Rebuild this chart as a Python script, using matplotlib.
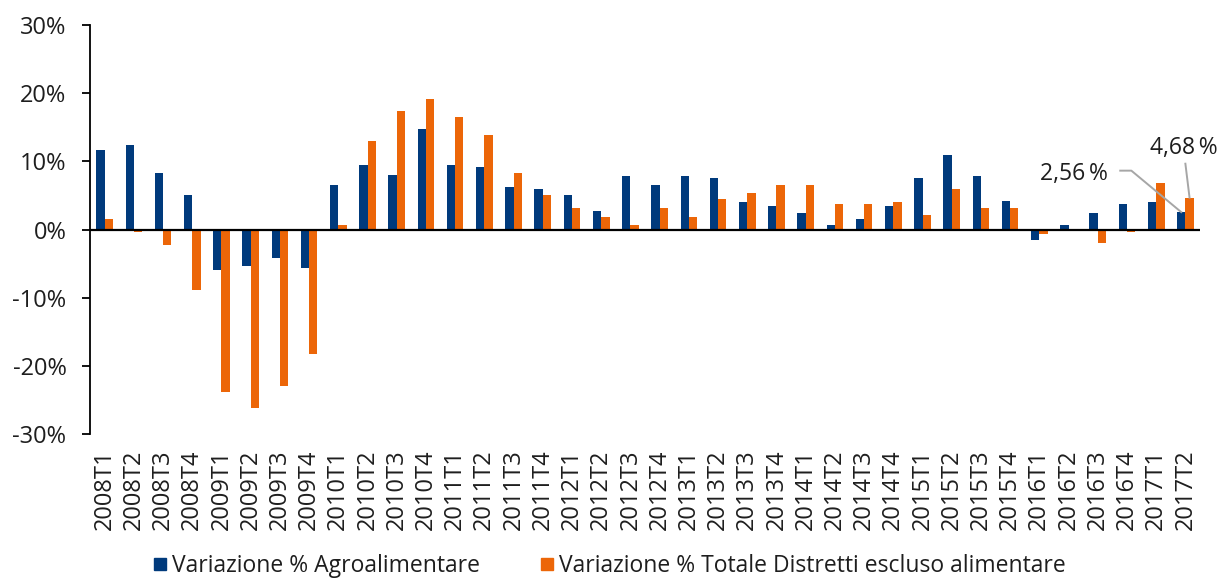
import matplotlib.pyplot as plt
from matplotlib.lines import Line2D
import numpy as np

quarters = ['2008T1', '2008T2', '2008T3', '2008T4', '2009T1', '2009T2', '2009T3', '2009T4',
            '2010T1', '2010T2', '2010T3', '2010T4', '2011T1', '2011T2', '2011T3', '2011T4',
            '2012T1', '2012T2', '2012T3', '2012T4', '2013T1', '2013T2', '2013T3', '2013T4',
            '2014T1', '2014T2', '2014T3', '2014T4', '2015T1', '2015T2', '2015T3', '2015T4',
            '2016T1', '2016T2', '2016T3', '2016T4', '2017T1', '2017T2']

agro = [11.6, 12.4, 8.3, 5.1, -6.0, -5.4, -4.2, -5.7,
        6.5, 9.5, 8.0, 14.8, 9.5, 9.2, 6.2, 6.0,
        5.1, 2.7, 7.8, 6.6, 7.8, 7.5, 4.0, 3.4,
        2.5, 0.7, 1.6, 3.4, 7.5, 11.0, 7.8, 4.2,
        -1.6, 0.7, 2.5, 3.7, 4.0, 2.56]

distretti = [1.6, -0.4, -2.2, -8.9, -23.9, -26.2, -23.0, -18.3,
             0.7, 13.0, 17.4, 19.2, 16.5, 13.9, 8.3, 5.1,
             3.1, 1.9, 0.7, 3.1, 1.9, 4.5, 5.4, 6.6,
             6.6, 3.7, 3.7, 4.0, 2.2, 6.0, 3.1, 3.1,
             -0.7, -0.2, -1.9, -0.4, 6.9, 4.68]

label_agro = 'Variazione % Agroalimentare'
label_distretti = 'Variazione % Totale Distretti escluso alimentare'

BLUE = '#003A7C'
ORANGE = '#EC6608'
TEXT = '#1e1e1e'

plt.rcParams['font.family'] = ['Open Sans', 'DejaVu Sans']

fig = plt.figure(figsize=(12.2, 5.78), dpi=100)
ax = fig.add_axes([0.0738, 0.249, 0.9098, 0.7077])

x = np.arange(len(quarters))
w = 0.285
ax.bar(x - w / 2, agro, w, color=BLUE, label=label_agro)
ax.bar(x + w / 2, distretti, w, color=ORANGE, label=label_distretti)
ax.axhline(0, color='black', lw=1.6, zorder=3)

ax.set_xlim(-0.5, len(quarters) - 0.5)
ax.set_ylim(-30, 30)
ax.set_yticks(range(-30, 31, 10))
ax.set_yticklabels([f'{v}%' for v in range(-30, 31, 10)])
ax.set_xticks(x)
ax.set_xticklabels(quarters, rotation=90)

for side in ['top', 'right', 'bottom']:
    ax.spines[side].set_visible(False)
ax.spines['left'].set_linewidth(1.3)
ax.tick_params(axis='y', direction='out', length=6, width=1.3, pad=11,
               labelsize=17, labelcolor=TEXT)
ax.tick_params(axis='x', length=0, pad=11, labelsize=17, labelcolor=TEXT)

# value labels for the last quarter, with grey leader lines
last = len(quarters) - 1
grey = '#a6a6a6'
ax.text(33.2, 8.2, f'{agro[last]:.2f}'.replace('.', ',') + '\u2009%',
        ha='center', va='center', fontsize=16.5, color=TEXT)
ax.plot([34.77, 35.15, last - w / 2], [8.64, 8.64, agro[last]], color=grey, lw=1.4)
ax.text(36.93, 12.0, f'{distretti[last]:.2f}'.replace('.', ',') + '\u2009%',
        ha='center', va='center', fontsize=16.5, color=TEXT)
ax.plot([37.0, last + w / 2], [9.66, distretti[last]], color=grey, lw=1.4)

handles = [Line2D([], [], marker='s', linestyle='none', color=BLUE, markersize=8.5),
           Line2D([], [], marker='s', linestyle='none', color=ORANGE, markersize=8.5)]
fig.legend(handles, [label_agro, label_distretti], loc='center', ncol=2,
           bbox_to_anchor=(0.5, 0.02), frameon=False, fontsize=16.5,
           handlelength=0.5, handletextpad=0.25, columnspacing=2.7,
           labelcolor=TEXT, borderpad=0)

fig.savefig('out.png', dpi=100)
